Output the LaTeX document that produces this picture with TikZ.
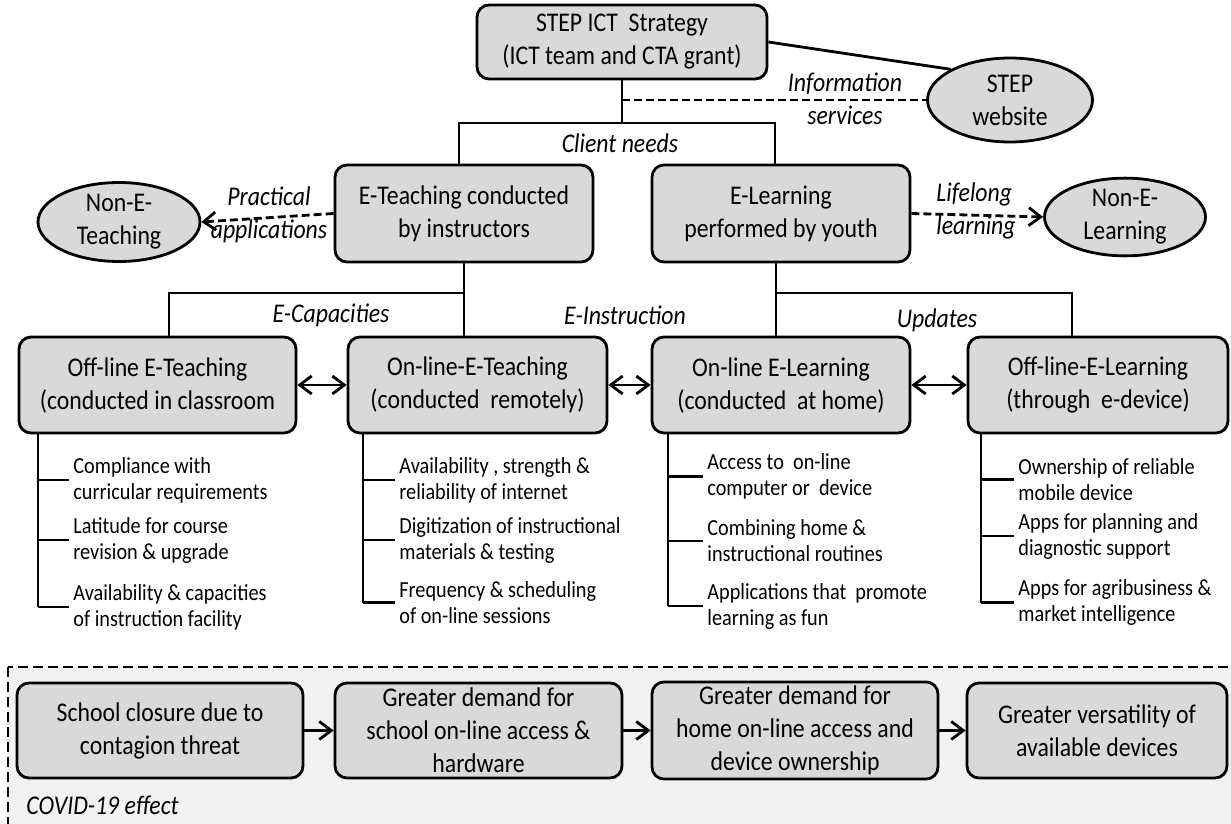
\documentclass[tikz,border=0pt]{standalone}
\usepackage{fontspec}
\setmainfont{Carlito}[FakeStretch=0.88]
\usetikzlibrary{arrows.meta, positioning, shapes.geometric}
\definecolor{BX}{RGB}{217,217,217}
\definecolor{PN}{RGB}{242,242,242}

\begin{document}
\begin{tikzpicture}[x=0.5pt, y=-0.5pt,
  >={Straight Barb[length=6pt,width=9pt]},
  box/.style={draw, fill=BX, line width=1.4pt, rounded corners=6pt,
              align=center, inner sep=2pt,
              font=\fontsize{13.5}{16.5}\selectfont},
  oval/.style={ellipse, draw, fill=BX, line width=1.4pt, align=center,
               inner sep=0pt, font=\fontsize{13.5}{16.5}\selectfont},
  lbl/.style={font=\fontsize{13.5}{16.5}\selectfont\itshape,
              align=center, inner sep=2pt},
  item/.style={font=\fontsize{11.5}{13}\selectfont, align=left,
               anchor=west, inner sep=2pt},
  link/.style={line width=1.4pt},
  dlink/.style={line width=1.4pt, dash pattern=on 4pt off 2pt}
]
\useasboundingbox (0,0) rectangle (1231,824);

% COVID-19 panel
\draw[line width=1.4pt, dash pattern=on 5pt off 2.5pt, fill=PN]
  (8,667) rectangle (1260,850);
\node[lbl, anchor=west] (covid) at (22,805) {COVID-19 effect};

% Strategy level
\node[box, minimum width=145pt, minimum height=37pt] (top) at (622,42)
  {STEP ICT\ \ Strategy\\(ICT team and CTA grant)};
\node[oval, minimum width=82.5pt, minimum height=42pt] (web) at (1010,100)
  {STEP\\website};

% Teaching / learning level
\node[box, minimum width=129pt, minimum height=48.5pt] (eteach) at (464,213.5)
  {E-Teaching conducted\\by instructors};
\node[box, minimum width=129pt, minimum height=48.5pt] (elearn) at (781,213.5)
  {E-Learning\\performed by youth};
\node[oval, minimum width=81pt, minimum height=39.5pt] (nonteach) at (119,222)
  {Non-E-\\Teaching};
\node[oval, minimum width=80.5pt, minimum height=37pt] (nonlearn) at (1125,217)
  {Non-E-\\Learning};

% Delivery modes
\foreach \nm/\cx/\w/\txt in {
  offT/157.5/138.5/{Off-line E-Teaching\\(conducted in classroom},
  onT/477.5/129.5/{On-line-E-Teaching\\(conducted\ \ remotely)},
  onL/781/129/{On-line E-Learning\\(conducted\ \ at home)},
  offL/1098/130/{Off-line-E-Learning\\(through\ \ e-device)}}{
  \node[box, minimum width=\w pt, minimum height=48pt] (\nm) at (\cx,385) {\txt};
}

% COVID-19 chain
\foreach \nm/\cx/\w/\txt in {
  cv1/160/143/{School closure due to\\contagion threat},
  cv2/478.5/143.5/{Greater demand for\\school on-line access \&\\hardware},
  cv3/795/143/{Greater demand for\\home on-line access and\\device ownership},
  cv4/1097/130/{Greater versatility of\\available devices}}{
  \node[box, minimum width=\w pt, minimum height=47.5pt] (\nm) at (\cx,730.5) {\txt};
}

% Tree connectors
\coordinate (busA) at (0,123);
\coordinate (busB) at (0,293);
\draw[link] (top.south) -- (top.south |- busA);
\draw[link] ([xshift=-2.5pt]eteach.north) |- (top.south |- busA)
  -| ([xshift=-3pt]elearn.north);
\draw[link] (top.east) -- (web.north west);
\draw[dlink] (top.south |- web.west) -- (web.west);
\draw[dlink, ->] (eteach.west) -- (nonteach.east);
\draw[dlink, ->] (elearn.east) -- (nonlearn.west);
\draw[link] (eteach.south) -- (eteach.south |- onT.north);
\draw[link] (eteach.south |- busB) -| ([xshift=5.75pt]offT.north);
\draw[link] ([xshift=-2.5pt]elearn.south) -- ([xshift=-2.5pt]elearn.south |- onL.north);
\draw[link] ([xshift=-2.5pt]elearn.south |- busB) -| ([xshift=-13pt]offL.north);

% Links between modes and along the chain
\draw[link, <->] (offT) -- (onT);
\draw[link, <->] (onT) -- (onL);
\draw[link, <->] (onL) -- (offL);
\draw[link, ->] (cv1) -- (cv2);
\draw[link, ->] (cv2) -- (cv3);
\draw[link, ->] (cv3) -- (cv4);

% Connector labels
\node[lbl] (needs) at (620,143) {Client needs};
\node[lbl] (info) at (845,99) {Information\\services};
\node[lbl] (pract) at (269,215) {Practical\\applications};
\node[lbl, align=left] (life) at (976,211) {Lifelong\\learning};
\node[lbl] (ecap) at (331,315) {E-Capacities};
\node[lbl] (einst) at (625,315) {E-Instruction};
\node[lbl] (upd) at (937,320) {Updates};

% Factor lists under each mode
\coordinate (offTs) at (38,433);
\foreach \i/\yy/\txt in {1/480/{Compliance with\\curricular requirements},
  2/540/{Latitude for course\\revision \& upgrade},
  3/607/{Availability \& capacities\\of instruction facility}}{
  \node[item] (offT\i) at (69,\yy) {\txt};
  \draw[link] (offTs |- offT\i.west) -- (offT\i.west);
}
\draw[link] (offTs) -- (offTs |- offT3.west);

\coordinate (onTs) at (363,433);
\foreach \i/\yy/\txt in {1/480/{Availability , strength \&\\reliability of internet},
  2/540/{Digitization of instructional\\materials \& testing},
  3/602.5/{Frequency \& scheduling\\of on-line sessions}}{
  \node[item] (onT\i) at (395,\yy) {\txt};
  \draw[link] (onTs |- onT\i.west) -- (onT\i.west);
}
\draw[link] (onTs) -- (onTs |- onT3.west);

\coordinate (onLs) at (668,433);
\foreach \i/\yy/\txt in {1/476.5/{Access to\ \ on-line\\computer or\ \ device},
  2/541/{Combining home \&\\instructional routines},
  3/606/{Applications that\ \ promote\\learning as fun}}{
  \node[item] (onL\i) at (703,\yy) {\txt};
  \draw[link] (onLs |- onL\i.west) -- (onL\i.west);
}
\draw[link] (onLs) -- (onLs |- onL3.west);

\coordinate (offLs) at (981,433);
\foreach \i/\yy/\txt in {1/479.5/{Ownership of reliable\\mobile device},
  2/536/{Apps for planning and\\diagnostic support},
  3/602.5/{Apps for agribusiness \&\\market intelligence}}{
  \node[item] (offL\i) at (1014,\yy) {\txt};
  \draw[link] (offLs |- offL\i.west) -- (offL\i.west);
}
\draw[link] (offLs) -- (offLs |- offL3.west);
\end{tikzpicture}
\end{document}
